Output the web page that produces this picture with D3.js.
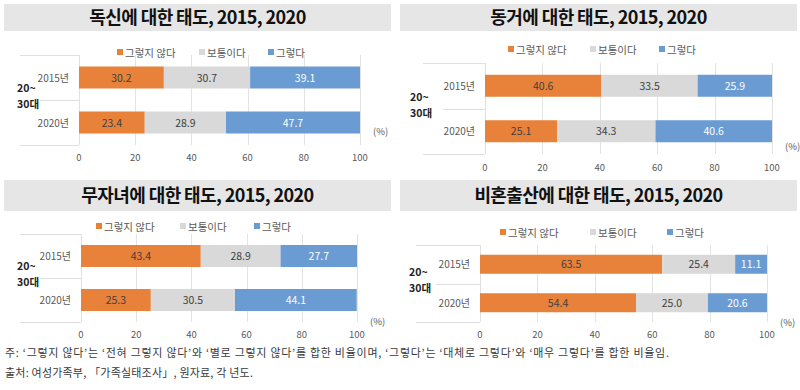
<!DOCTYPE html>
<html>
<head>
<meta charset="utf-8">
<script src="https://cdn.jsdelivr.net/npm/d3@7"></script>
<style>
  body { margin: 0; background: #fff; }
  text { font-family: "Noto Sans CJK KR", "Noto Sans", sans-serif; }
</style>
</head>
<body>
<svg id="chart" width="800" height="390"></svg>
<script>
// chart data
var titles = ["독신에 대한 태도, 2015, 2020", "동거에 대한 태도, 2015, 2020",
  "무자녀에 대한 태도, 2015, 2020", "비혼출산에 대한 태도, 2015, 2020"];
var years = ["2015년", "2020년"];
var seriesNames = ["그렇지 않다", "보통이다", "그렇다"];
var seriesColors = ["#E8823A", "#D9D9D9", "#6A9BD3"];
var labelColors = ["#404040", "#404040", "#ffffff"];
var ticks = [0, 20, 40, 60, 80, 100];
var disagreeVals = [[30.2, 23.4], [40.6, 25.1], [43.4, 25.3], [63.5, 54.4]];
var neutralVals = [[30.7, 28.9], [33.5, 34.3], [28.9, 30.5], [25.4, 25.0]];
var agreeVals = [[39.1, 47.7], [25.9, 40.6], [27.7, 44.1], [11.1, 20.6]];
var noteLines = [
  "주: ‘그렇지 않다’는 ‘전혀 그렇지 않다’와 ‘별로 그렇지 않다’를 합한 비율이며, ‘그렇다’는 ‘대체로 그렇다’와 ‘매우 그렇다’를 합한 비율임.",
  "출처: 여성가족부, 「가족실태조사」, 원자료, 각 년도."
];

// panel layout (pixels)
var panels = [
  { bx: 4, bw: 387, by: 4, bh: 27, legX: 117, legW: [82, 69], legY: 53, x0: 79, x1: 360, outL: 20, labX: 17, top: 55, bot: 145, bar: 22, tickY: 157, pctY: 131 },
  { bx: 400, bw: 397, by: 4, bh: 27, legX: 508, legW: [82, 69], legY: 50, x0: 485, x1: 772, outL: 423, labX: 410, top: 63, bot: 154, bar: 22, tickY: 167, pctY: 146 },
  { bx: 4, bw: 387, by: 180, bh: 31, legX: 96, legW: [84, 74], legY: 227, x0: 81, x1: 357, outL: 20, labX: 17, top: 234, bot: 322, bar: 22, tickY: 334, pctY: 321 },
  { bx: 400, bw: 397, by: 180, bh: 31, legX: 500, legW: [90, 77], legY: 233, x0: 480, x1: 767, outL: 416, labX: 409, top: 245, bot: 322, bar: 19, tickY: 334, pctY: 322 }
];
var noteWidths = [664, 248];

var svg = d3.select("#chart");

panels.forEach(function (p, i) {
  var g = svg.append("g");
  var rows = years.map(function (y, j) {
    return { year: y, vals: [disagreeVals[i][j], neutralVals[i][j], agreeVals[i][j]] };
  });

  // title band
  g.append("rect").attr("x", p.bx).attr("y", p.by).attr("width", p.bw).attr("height", p.bh)
    .attr("fill", "#E6E6E6");
  g.append("text").attr("x", p.bx + p.bw / 2).attr("y", p.by + p.bh / 2 + 6.5)
    .attr("text-anchor", "middle").attr("font-size", 18).attr("font-weight", "bold")
    .attr("fill", "#111").attr("letter-spacing", "-0.6").text(titles[i]);

  var x = d3.scaleLinear().domain([0, 100]).range([p.x0, p.x1]);
  var y = d3.scaleBand().domain(years).range([p.top, p.bot]);

  // gridlines
  g.selectAll(".grid").data(ticks.slice(1)).enter().append("line")
    .attr("x1", function (d) { return Math.round(x(d)) + 0.5; })
    .attr("x2", function (d) { return Math.round(x(d)) + 0.5; })
    .attr("y1", p.top).attr("y2", p.bot).attr("stroke", "#E3E3E3").attr("stroke-width", 1);

  // category axis lines
  g.append("line").attr("x1", p.x0 + 0.5).attr("x2", p.x0 + 0.5).attr("y1", p.top).attr("y2", p.bot)
    .attr("stroke", "#E0E0E0");
  [p.top, y.step() + p.top, p.bot].forEach(function (yy, k) {
    g.append("line").attr("x1", k === 1 ? p.outL + 20 : p.outL).attr("x2", p.x0)
      .attr("y1", Math.round(yy) + 0.5).attr("y2", Math.round(yy) + 0.5)
      .attr("stroke", "#E0E0E0");
  });

  // bars
  var rowG = g.selectAll(".row").data(rows).enter().append("g");
  rowG.each(function (r) {
    var cum = 0;
    var rg = d3.select(this);
    var yc = y(r.year) + y.bandwidth() / 2;
    r.vals.forEach(function (v, k) {
      rg.append("rect").attr("x", x(cum)).attr("width", x(cum + v) - x(cum))
        .attr("y", yc - p.bar / 2).attr("height", p.bar).attr("fill", seriesColors[k]);
      rg.append("text").attr("x", x(cum + v / 2)).attr("y", yc + 4)
        .attr("text-anchor", "middle").attr("font-size", 10.5).attr("fill", labelColors[k])
        .text(v.toFixed(1));
      cum += v;
    });
    rg.append("text").attr("x", p.x0 - 10).attr("y", yc + 4).attr("text-anchor", "end")
      .attr("font-size", 10).attr("fill", "#595959").text(r.year);
  });

  // outer group label
  var mid = (p.top + p.bot) / 2;
  g.append("text").attr("x", p.labX).attr("y", mid - 8)
    .attr("font-size", 10.5).attr("font-weight", "bold").attr("fill", "#222").text("20~");
  g.append("text").attr("x", p.labX).attr("y", mid + 8)
    .attr("font-size", 10.5).attr("font-weight", "bold").attr("fill", "#222").text("30대");

  // x axis tick labels
  g.selectAll(".tick").data(ticks).enter().append("text")
    .attr("x", function (d) { return x(d); }).attr("y", p.tickY + 4)
    .attr("text-anchor", "middle").attr("font-size", 9.5).attr("fill", "#595959")
    .text(function (d) { return d; });
  g.append("text").attr("x", p.x1 + 13).attr("y", p.pctY + 4).attr("font-size", 9.5)
    .attr("fill", "#595959").text("(%)");

  // legend
  var lx = p.legX;
  seriesNames.forEach(function (s, k) {
    g.append("rect").attr("x", lx).attr("y", p.legY - 4).attr("width", 6).attr("height", 6)
      .attr("fill", seriesColors[k]);
    g.append("text").attr("x", lx + 8).attr("y", p.legY + 4).attr("font-size", 10.5)
      .attr("fill", "#595959").text(s);
    lx += p.legW[k] || 0;
  });
});

// footnotes
svg.selectAll(".note").data(noteLines).enter().append("text")
  .attr("x", 5).attr("y", function (d, i) { return 357 + i * 20; })
  .attr("font-size", 11).attr("fill", "#3a3a3a")
  .attr("textLength", function (d, i) { return noteWidths[i]; })
  .attr("lengthAdjust", "spacing")
  .text(function (d) { return d; });
</script>
</body>
</html>
